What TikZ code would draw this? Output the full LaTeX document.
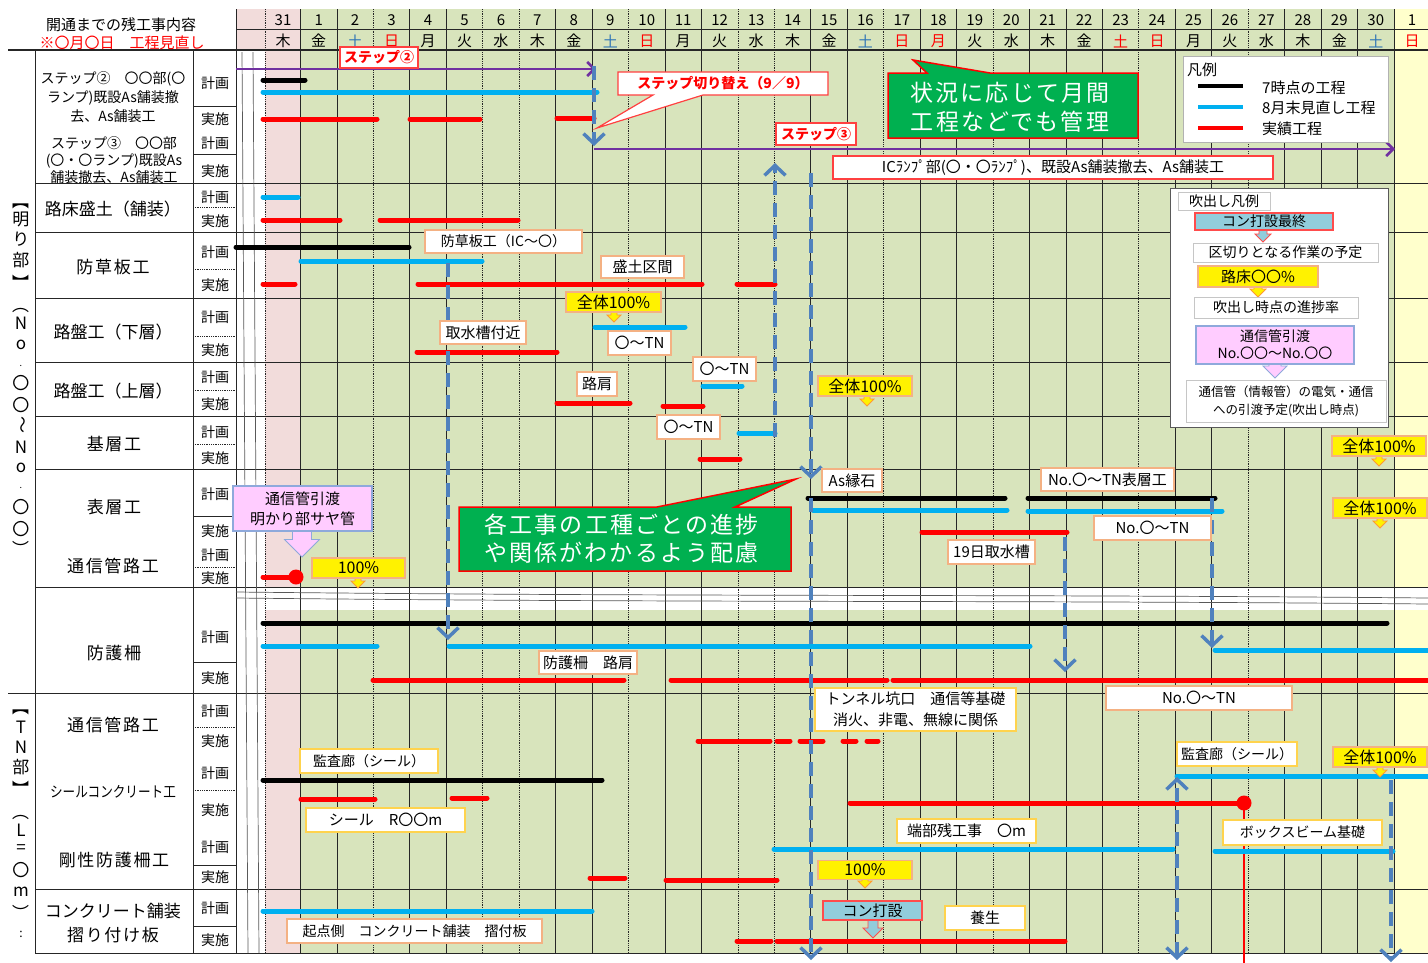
\documentclass[tikz,border=0pt]{standalone}
\usepackage{fontspec}
\setmainfont{Noto Sans CJK JP}
\newfontfamily\lspA[LetterSpace=10]{Noto Sans CJK JP}
\newfontfamily\lspB[LetterSpace=9]{Noto Sans CJK JP}
\usetikzlibrary{arrows.meta}
\newcommand\fsz[1]{\fontsize{#1}{#1}\selectfont}
\newcommand\fszl[2]{\fontsize{#1}{#2}\selectfont}
% block arrow under a callout: x, top y, tip y, shaft half width, head half width, style
\newcommand\carr[6]{\filldraw[#6] ({#1-#4},#2) -- ({#1-#4},{#3-#5}) -- ({#1-#5},{#3-#5}) -- (#1,#3) -- ({#1+#5},{#3-#5}) -- ({#1+#4},{#3-#5}) -- ({#1+#4},#2) -- cycle;}
\definecolor{gbg}{HTML}{D8E4BC}
\definecolor{pbg}{HTML}{F2DCDB}
\definecolor{ybg}{HTML}{FFFFCC}
\definecolor{cybar}{HTML}{00B0F0}
\definecolor{purp}{HTML}{7030A0}
\definecolor{dblue}{HTML}{4F81BD}
\definecolor{peach}{HTML}{F4B183}
\definecolor{gold}{HTML}{FFD34D}
\definecolor{callg}{HTML}{00B050}
\definecolor{satb}{HTML}{2E75B6}
\definecolor{pinkbox}{HTML}{FFCCFF}
\definecolor{pinkedge}{HTML}{8EA9DB}
\definecolor{conblue}{HTML}{92CDDC}
\definecolor{gridc}{HTML}{262626}
\begin{document}
\begin{tikzpicture}[x=1pt,y=-1pt,
  gsolid/.style={draw=gridc, line width=0.9pt},
  gdot/.style={draw=gridc, line width=0.8pt, densely dotted},
  brk/.style={draw=gray!70!black, line width=0.7pt},
  bk/.style={draw=black, line width=5pt, line cap=round},
  cy/.style={draw=cybar, line width=5pt, line cap=round},
  rd/.style={draw=red, line width=5pt, line cap=round},
  pu/.style={draw=purp, line width=2.5pt, -{Straight Barb[length=7pt,width=14pt]}},
  dtip/.style={Straight Barb[length=10pt,width=21pt,line width=3.5pt]},
  darr/.style={draw=dblue, line width=4pt, dash pattern=on 14pt off 8pt, -{Straight Barb[length=10pt,width=21pt,line width=3.5pt]}},
  darrb/.style={draw=dblue, line width=4pt, dash pattern=on 14pt off 8pt, {Straight Barb[length=10pt,width=21pt,line width=3.5pt]}-{Straight Barb[length=10pt,width=21pt,line width=3.5pt]}},
  sz/.style 2 args={minimum width=#1pt, minimum height=#2pt},
  lbl/.style={draw=peach, line width=1.2pt, fill=white, inner sep=0pt, font=\fsz{15}},
  lblg/.style={lbl, draw=gold},
  ylw/.style={draw=peach, line width=1.2pt, fill=yellow, inner sep=0pt, font=\fsz{16}},
  yarr/.style={fill=yellow, draw=orange!80, line width=0.8pt},
  rbox/.style={draw=red!75, line width=1.2pt, fill=white, inner sep=0pt},
  rtxt/.style={text=red, font=\bfseries\fsz{14}, inner sep=0pt},
  hdr/.style={font=\fsz{15}, inner sep=0pt},
  pk/.style={font=\fsz{14}, inner sep=0pt},
  item/.style={font=\fsz{17}, inner sep=0pt},
  items/.style={font=\lspA\fsz{17}, inner sep=0pt},
  vt/.style={font=\fsz{17}, inner sep=0pt},
  lgbox/.style={draw=gray!45, line width=1pt, fill=white, inner sep=0pt, font=\fsz{14}}
]
\useasboundingbox (0,0) rectangle (1428,962);
\fill[white] (0,0) rectangle (1428,962);

% ---------- backgrounds ----------
\fill[gbg] (300.5,9) rectangle (1393.9,587);
\fill[gbg] (300.5,610) rectangle (1393.9,953);
\fill[pbg] (236,9) rectangle (300.5,50);
\fill[pbg] (265,50) rectangle (300.5,587);
\fill[pbg] (265,610) rectangle (300.5,953);
\fill[ybg] (1393.9,9) rectangle (1428,587);
\fill[ybg] (1393.9,610) rectangle (1428,953);

% ---------- day grid ----------
\foreach \k in {0,1,3,4,7,8,10,11,14,15,17,18,20,21,22,24,25,27,28,29,30}
  \draw[gsolid] ({300.5+36.45*\k},9) -- ({300.5+36.45*\k},953);
\foreach \k in {2,5,6,9,12,13,16,19,23,26}
  \draw[gdot] ({300.5+36.45*\k},9) -- ({300.5+36.45*\k},953);
\draw[gdot] (265,9) -- (265,953);
\draw[gsolid] (236,9) -- (236,953);
\draw[gsolid] (236,29) -- (1428,29);
\draw[draw=gridc, line width=1.6pt] (8,50) -- (1428,50);

% ---------- table frame ----------
\draw[gsolid] (35,50) -- (35,953);
\draw[gsolid] (193,50) -- (193,953);
\foreach \yy in {183,232,298,362,416,469,587,889,953}
  \draw[gsolid] (35,\yy) -- (1428,\yy);
\draw[gsolid] (8,693) -- (1428,693);
\foreach \yy in {106,154,516,662,865,926}
  \draw[gsolid] (193,\yy) -- (236,\yy);
\foreach \yy in {207,269,336,390,444,567,727,790}
  \draw[gdot] (193,\yy) -- (236,\yy);

% break marks
\draw[brk] (242,52) -- (248,953);
\draw[brk] (253,52) -- (259,953);
\draw[brk] (236,592) .. controls (700,597) and (1000,594) .. (1428,598);
\draw[brk] (236,598) .. controls (700,603) and (1000,600) .. (1428,604);

% ---------- header ----------
\node[font=\fsz{15}, inner sep=0pt] (ttl) at (121,25) {開通までの残工事内容};
\node[font=\fsz{15}, inner sep=0pt, text=red] (ttl2) at (122,43) {※〇月〇日　工程見直し};
\node[hdr] (d0) at (283,20) {31};
\node[hdr] (w0x) at (283,41) {木};
\foreach \d [count=\k from 0] in {1,...,30}
  \node[hdr] (d\d) at ({318.7+36.45*\k},20) {\d};
\node[hdr] (dn1) at (1412,20) {1};
\foreach \w/\c [count=\k from 0] in {金/black,土/satb,日/red,月/black,火/black,水/black,木/black,金/black,土/satb,日/red,月/black,火/black,水/black,木/black,金/black,土/satb,日/red,月/red,火/black,水/black,木/black,金/black,土/red,日/red,月/black,火/black,水/black,木/black,金/black,土/satb,日/red}
  \node[hdr, text=\c] (w\k) at ({318.7+36.45*\k},41) {\w};

% ---------- bars ----------
% step 2
\draw[pu] (236,69) -- (596,69);
\draw[bk] (263,80) -- (305,80);
\draw[cy] (263,92) -- (597,92);
\draw[rd] (263,119) -- (377,119);
\draw[rd] (410,119) -- (480,119);
\draw[rd] (557,118) -- (594,118);
% step 3
\draw[pu] (594,149) -- (1395,149);
% subgrade fill
\draw[cy] (263,197) -- (298,197);
\draw[rd] (263,220) -- (340,220);
\draw[rd] (380,220) -- (518,220);
% weed barrier
\draw[bk] (236,247) -- (409,247);
\draw[cy] (301,261) -- (482,261);
\draw[rd] (263,284) -- (295,284);
\draw[rd] (418,284) -- (702,284);
\draw[rd] (737,284) -- (775,284);
% lower base course
\draw[cy] (595,327) -- (685,327);
\draw[rd] (417,352) -- (557,352);
% upper base course
\draw[cy] (703,386) -- (742,386);
\draw[rd] (557,403) -- (630,403);
\draw[rd] (663,406) -- (703,406);
% binder course
\draw[cy] (739,433) -- (775,433);
\draw[rd] (700,459) -- (740,459);
% surface course
\draw[bk] (808,498) -- (1005,498);
\draw[bk] (1028,498) -- (1215,498);
\draw[cy] (813,510) -- (1007,510);
\draw[cy] (1028,511) -- (1222,511);
\draw[rd] (922,532) -- (1067,532);
% conduit (open section)
\draw[rd] (263,577) -- (296,577);
\fill[red] (296,577) circle (7.5pt);
% guard fence
\draw[bk] (263,623) -- (1387,623);
\draw[cy] (263,646) -- (377,646);
\draw[cy] (449,646) -- (1030,646);
\draw[cy] (1215,650) -- (1440,650);
\draw[rd] (373,680) -- (624,680);
\draw[rd] (671,680) -- (887,680);
\draw[rd] (893,680) -- (1440,680);
% conduit (tunnel)
\draw[rd] (698,741) -- (770,741);
\draw[rd] (777,741) -- (790,741);
\draw[rd] (800,741) -- (823,741);
\draw[rd] (843,741) -- (856,741);
\draw[rd] (867,741) -- (878,741);
% seal concrete
\draw[bk] (263,780) -- (602,780);
\draw[rd] (301,799) -- (375,799);
\draw[rd] (452,798) -- (487,798);
\draw[cy] (1177,776) -- (1440,776);
\draw[rd] (850,803) -- (1244,803);
\draw[red, line width=1.5pt] (1244,803) -- (1244,965);
\fill[red] (1244,803) circle (7.5pt);
% rigid guard fence
\draw[cy] (774,849) -- (1173,849);
\draw[cy] (1215,851) -- (1393,851);
\draw[rd] (590,878) -- (625,878);
\draw[rd] (666,880) -- (777,880);
% concrete pavement
\draw[cy] (263,911) -- (592,911);
\draw[rd] (737,941) -- (771,941);
\draw[rd] (777,941) -- (1065,941);

% ---------- dependency arrows ----------
\draw[darr] (594,66) -- (594,146);
\draw[darr] (448,263) -- (448,640);
\draw[darr] (775,437) -- (775,163);
\draw[darr] (811,173) -- (811,479);
\draw[darr] (811,498) -- (811,960);
\draw[darr] (1065,537) -- (1065,672);
\draw[darr] (1212,498) -- (1212,648);
\draw[darrb] (1177,960) -- (1177,777);
\draw[darr] (1391,780) -- (1391,962);

% ---------- red callouts ----------
\node[rbox, sz={78}{21}] (s2box) at (379,57.5) {};
\node[rtxt] (s2) at (379,57.5) {ステップ②};
\filldraw[fill=white, draw=red!75, line width=1.2pt] (618,72) -- (828,72) -- (828,95) -- (703,95) -- (597,128) -- (653,95) -- (618,95) -- cycle;
\node[rtxt] (swt) at (723,83.5) {ステップ切り替え（9／9）};
\node[rbox, sz={80}{22}] (s3box) at (816,134) {};
\node[rtxt] (s3) at (816,134) {ステップ③};
\node[rbox, sz={440}{23}, font=\fsz{15}] (ic) at (1053,167.5) {ICﾗﾝﾌﾟ部(〇・〇ﾗﾝﾌﾟ)、既設As舗装撤去、As舗装工};

% ---------- green notes ----------
\filldraw[fill=callg, draw=red, line width=1.5pt] (888,73) -- (927,73) -- (913,60) -- (990,73) -- (1138,73) -- (1138,138) -- (888,138) -- cycle;
\node[text=white, font=\lspB\fszl{23}{29}, align=center, inner sep=0pt] (note1) at (1010,107.5) {状況に応じて月間\\工程などでも管理};
\filldraw[fill=callg, draw=red, line width=1.5pt] (459,507) -- (657,507) -- (796,479) -- (735,507) -- (791,507) -- (791,571) -- (459,571) -- cycle;
\node[text=white, font=\lspB\fszl{23}{28}, align=center, inner sep=0pt] (note2) at (621.5,539) {各工事の工種ごとの進捗\\や関係がわかるよう配慮};

% ---------- legend ----------
\node[draw=gray!60, line width=1pt, fill=white, sz={205}{86}] (lg) at (1285.5,99.5) {};
\node[anchor=west, font=\fsz{15}, inner sep=0pt] (lgt) at (1187,70) {凡例};
\draw[black, line width=4.5pt] (1198,86) -- (1243,86);
\draw[cybar, line width=4.5pt] (1198,107) -- (1243,107);
\draw[red, line width=4.5pt] (1198,128) -- (1243,128);
\node[anchor=west, font=\fsz{15}, inner sep=0pt] (lg1) at (1262,88) {7時点の工程};
\node[anchor=west, font=\fsz{15}, inner sep=0pt] (lg2) at (1262,108) {8月末見直し工程};
\node[anchor=west, font=\fsz{15}, inner sep=0pt] (lg3) at (1262,129) {実績工程};

% ---------- callout legend ----------
\node[draw=gray!70!black, line width=1pt, fill=white, sz={218}{239}] (fk) at (1279,307.5) {};
\node[lgbox, sz={92}{18}] (fk0) at (1224,201) {吹出し凡例};
\carr{1263}{228}{242}{4}{8}{fill=conblue, draw=red!70, line width=0.8pt}
\node[draw=red!70, line width=1.2pt, fill=conblue, inner sep=0pt, sz={138}{17}, font=\fsz{14}] (fk1) at (1264,221.5) {コン打設最終};
\node[lgbox, sz={185}{19}] (fk2) at (1285.5,252.5) {区切りとなる作業の予定};
\carr{1258}{285}{297}{4}{8}{yarr}
\node[ylw, sz={120}{21}, font=\fsz{15}] (fk3) at (1258,276.5) {路床〇〇\%};
\node[lgbox, sz={164}{21}] (fk4) at (1276,307.5) {吹出し時点の進捗率};
\carr{1275}{362}{378}{6}{12}{fill=pinkbox, draw=pinkedge, line width=0.8pt}
\node[draw=pinkedge, line width=1.2pt, fill=pinkbox, inner sep=0pt, sz={158}{38}, align=center, font=\fszl{14}{17}] (fk5) at (1275,345) {通信管引渡\\No.〇〇〜No.〇〇};
\node[lgbox, sz={200}{42}, align=center, font=\fszl{12.5}{18}] (fk6) at (1286,401) {通信管（情報管）の電気・通信\\への引渡予定(吹出し時点)};

% ---------- labels on the chart ----------
\node[lbl, sz={157}{23}, font=\fsz{14}] (b1) at (503.5,241.5) {防草板工（IC〜〇）};
\node[lbl, sz={83}{22}] (b2) at (642.5,267) {盛土区間};
\carr{614}{311}{322}{3}{7}{yarr}
\node[ylw, sz={95}{20}] (y1) at (613.5,302) {全体100\%};
\node[lbl, sz={86}{23}] (b3) at (483,332.5) {取水槽付近};
\node[lbl, sz={63}{24}] (b4) at (639.5,343) {〇〜TN};
\node[lbl, sz={63}{24}] (b5) at (724.5,369) {〇〜TN};
\node[lbl, sz={40}{24}] (b6) at (597,384) {路肩};
\node[lbl, sz={63}{24}] (b7) at (688.5,427) {〇〜TN};
\carr{867}{395}{406}{3}{7}{yarr}
\node[ylw, sz={94}{20}] (y2) at (865,386) {全体100\%};
\node[lbl, sz={60}{23}] (b8) at (852,480.5) {As縁石};
\node[lbl, sz={133}{23}] (b9) at (1107.5,479.5) {No.〇〜TN表層工};
\node[lbl, sz={117}{24}] (b10) at (1152.5,528) {No.〇〜TN};
\node[lbl, sz={87}{24}] (b11) at (991.5,552) {19日取水槽};
\carr{302}{529}{557}{9.5}{17.5}{fill=pinkbox, draw=pinkedge, line width=0.8pt}
\node[draw=pinkedge, line width=1.2pt, fill=pinkbox, inner sep=0pt, sz={139}{45}, align=center, font=\fszl{15}{20}] (pk0) at (302.5,508.5) {通信管引渡\\明かり部サヤ管};
\carr{358}{577}{588}{3}{7}{yarr}
\node[ylw, sz={93}{20}] (y3) at (358.5,568) {100\%};
\carr{1379}{455}{466}{3}{7}{yarr}
\node[ylw, sz={94}{20}] (y4) at (1379,446) {全体100\%};
\carr{1380}{517}{528}{3}{7}{yarr}
\node[ylw, sz={94}{20}] (y5) at (1380,508) {全体100\%};
\node[lbl, sz={98}{23}] (b12) at (588,662.5) {防護柵　路肩};
\node[lblg, sz={201}{43}, align=center, font=\fszl{15}{21}] (b13) at (915.5,709.5) {トンネル坑口　通信等基礎\\消火、非電、無線に関係};
\node[lbl, sz={186}{24}] (b14) at (1199,698) {No.〇〜TN};
\node[lblg, sz={138}{24}, font=\fsz{14}] (b15) at (369,761) {監査廊（シール）};
\node[lblg, sz={159}{24}] (b16) at (385.5,820) {シール　R〇〇m};
\node[lblg, sz={120}{24}, font=\fsz{14}] (b17) at (1237,754) {監査廊（シール）};
\carr{1380}{766}{777}{3}{7}{yarr}
\node[ylw, sz={94}{20}] (y6) at (1380,757) {全体100\%};
\node[lblg, sz={139}{24}] (b18) at (966.5,831) {端部残工事　〇m};
\node[lblg, sz={159}{25}, font=\fsz{14}] (b19) at (1302.5,832.5) {ボックスビーム基礎};
\carr{865}{878}{888}{3}{7}{yarr}
\node[ylw, sz={94}{19}] (y7) at (865,870) {100\%};
\node[lbl, sz={255}{24}, font=\fsz{14}] (b20) at (414.5,931) {起点側　コンクリート舗装　摺付板};
\carr{873}{918}{938}{5}{10}{fill=conblue, draw=red!70, line width=0.8pt}
\node[draw=red!70, line width=1.2pt, fill=conblue, inner sep=0pt, sz={99}{19}, font=\fsz{15}] (cb) at (872.5,910.5) {コン打設};
\node[lblg, sz={80}{24}] (b21) at (985,918) {養生};

% ---------- row titles ----------
\node[align=center, font=\fszl{14}{19}, inner sep=0pt] (r1) at (113,97) {ステップ②　〇〇部(〇\\ランプ)既設As舗装撤\\去、As舗装工};
\node[align=center, font=\fszl{14}{17}, inner sep=0pt] (r2) at (114,160) {ステップ③　〇〇部\\(〇・〇ランプ)既設As\\舗装撤去、As舗装工};
\node[item] (r3) at (113,209) {路床盛土（舗装）};
\node[items] (r4) at (113,267) {防草板工};
\node[item] (r5) at (113,332) {路盤工（下層）};
\node[item] (r6) at (113,391) {路盤工（上層）};
\node[items] (r7) at (114,444) {基層工};
\node[items] (r8) at (114,507) {表層工};
\node[items] (r9) at (113,566) {通信管路工};
\node[items] (r10) at (114,653) {防護柵};
\node[items] (r11) at (113,725) {通信管路工};
\node[font=\fsz{15}, inner sep=0pt, xscale=0.84, transform shape] (r12) at (113,792) {シールコンクリート工};
\node[items] (r13) at (114,860) {剛性防護柵工};
\node[item] (r14) at (113,911) {コンクリート舗装};
\node[items] (r15) at (113,935) {摺り付け板};

\foreach \t/\yy [count=\i] in {計画/83,実施/119,計画/143,実施/171,計画/197,実施/221,計画/252,実施/285,計画/317,実施/350,計画/377,実施/404,計画/432,実施/458,計画/494,実施/531,計画/555,実施/578,計画/637,実施/678,計画/711,実施/741,計画/773,実施/810,計画/847,実施/877,計画/908,実施/940}
  \node[pk] (pk\i) at (215,\yy) {\t};

% ---------- vertical section titles ----------
\node[vt, rotate=-90] (v1) at (21,201) {【};
\node[vt] (v2) at (21,219) {明};
\node[vt] (v3) at (21,239) {り};
\node[vt] (v4) at (21,260) {部};
\node[vt, rotate=-90] (v5) at (21,283) {】};
\node[vt, rotate=-90] (v6) at (21,305) {（};
\node[vt] (v7) at (21,323) {N};
\node[vt] (v8) at (21,345) {o};
\node[vt, font=\fsz{9}] (v9) at (21,366) {.};
\node[vt] (v10) at (21,383) {〇};
\node[vt] (v11) at (21,405) {〇};
\node[vt, rotate=-90] (v12) at (21,425) {〜};
\node[vt] (v13) at (21,447) {N};
\node[vt] (v14) at (21,468) {o};
\node[vt, font=\fsz{9}] (v15) at (21,488) {.};
\node[vt] (v16) at (21,507) {〇};
\node[vt] (v17) at (21,529) {〇};
\node[vt, rotate=-90] (v18) at (21,549) {）};
\node[vt, rotate=-90] (t1) at (21,707) {【};
\node[vt] (t2) at (21,727) {T};
\node[vt] (t3) at (21,747) {N};
\node[vt] (t4) at (21,767) {部};
\node[vt, rotate=-90] (t5) at (21,789) {】};
\node[vt, rotate=-90] (t6) at (21,812) {（};
\node[vt] (t7) at (21,830) {L};
\node[vt] (t8) at (21,849) {=};
\node[vt] (t9) at (21,870) {〇};
\node[vt] (t10) at (21,892) {m};
\node[vt, rotate=-90] (t11) at (21,913) {）};
\node[vt, font=\fsz{12}] (t12) at (21,934) {:};
\end{tikzpicture}
\end{document}
